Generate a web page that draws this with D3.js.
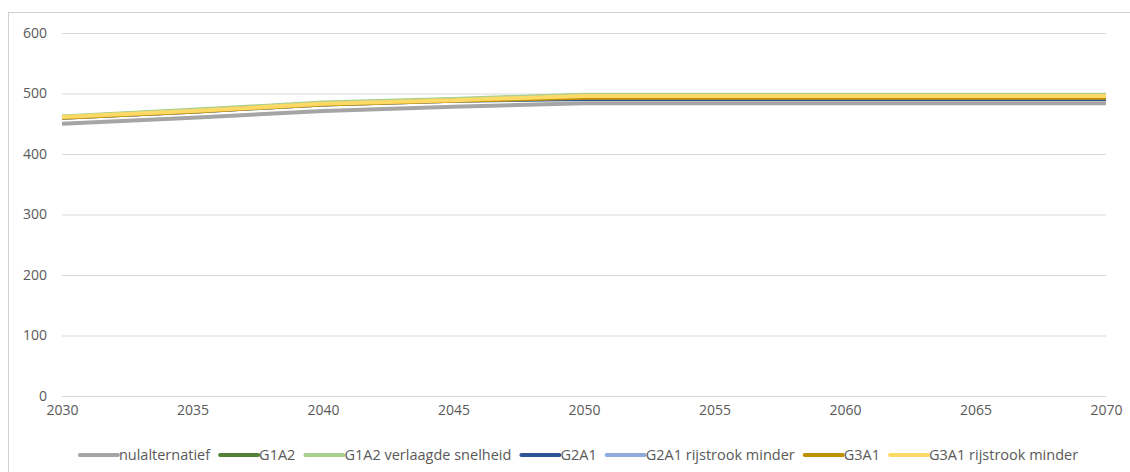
<!DOCTYPE html>
<html>
<head>
<meta charset="utf-8">
<script src="https://cdn.jsdelivr.net/npm/d3@7"></script>
<style>
  html, body { margin: 0; padding: 0; background: #fff; }
  svg { display: block; }
  text { font-family: "Open Sans", "Noto Sans", sans-serif; fill: #595959; }
</style>
</head>
<body>
<svg id="chart" width="1130" height="472"></svg>
<script>
// Years on the horizontal axis
const years = [2030, 2035, 2040, 2045, 2050, 2055, 2060, 2065, 2070];

// Scenario names and their values per year
const seriesNames = [
  "nulalternatief",
  "G1A2",
  "G1A2 verlaagde snelheid",
  "G2A1",
  "G2A1 rijstrook minder",
  "G3A1",
  "G3A1 rijstrook minder"
];
const nulalternatief      = [450, 460, 471, 478, 484, 484, 484, 484, 484];
const g1a2                = [461, 472, 484, 490, 497, 497, 497, 497, 497];
const g1a2Verlaagd        = [462, 473, 485, 491, 498, 498, 498, 498, 498];
const g2a1                = [460, 470, 482, 488, 491, 491, 491, 491, 491];
const g2a1Rijstrook       = [460, 470, 482, 488, 494, 494, 494, 494, 494];
const g3a1                = [460, 470, 482, 488, 493, 493, 493, 493, 493];
const g3a1Rijstrook       = [461, 471, 483, 489, 496, 496, 496, 496, 496];

const seriesValues = [nulalternatief, g1a2, g1a2Verlaagd, g2a1, g2a1Rijstrook, g3a1, g3a1Rijstrook];
const seriesColors = ["#a5a5a5", "#548235", "#a9d18e", "#2f5597", "#8faadc", "#bf9000", "#ffd966"];

const yTicks = [0, 100, 200, 300, 400, 500, 600];
const xTicks = [2030, 2035, 2040, 2045, 2050, 2055, 2060, 2065, 2070];

const svg = d3.select("#chart");

// Chart frame
svg.append("rect")
  .attr("x", 8.5).attr("y", 12.5)
  .attr("width", 1140).attr("height", 470)
  .attr("fill", "none").attr("stroke", "#d0d0d0").attr("stroke-width", 1);

const plot = { left: 62, right: 1106, top: 33, bottom: 396 };

const x = d3.scaleLinear().domain([2030, 2070]).range([plot.left, plot.right]);
const y = d3.scaleLinear().domain([0, 600]).range([plot.bottom, plot.top]);

// Horizontal gridlines + y labels
const yAxis = d3.axisLeft(y).tickValues(yTicks).tickSize(-(plot.right - plot.left)).tickPadding(15);
const gy = svg.append("g").attr("transform", `translate(${plot.left},0)`).call(yAxis);
gy.select(".domain").remove();
gy.selectAll(".tick line").attr("stroke", "#d9d9d9").attr("stroke-width", 1);
gy.selectAll(".tick text").attr("font-size", "14px").attr("fill", "#595959")
  .style("font-family", '"Open Sans", sans-serif');

// X labels
const xAxis = d3.axisBottom(x).tickValues(xTicks).tickFormat(d3.format("d")).tickSize(0).tickPadding(9);
const gx = svg.append("g").attr("transform", `translate(0,${plot.bottom})`).call(xAxis);
gx.select(".domain").remove();
gx.selectAll(".tick text").attr("font-size", "14px").attr("fill", "#595959")
  .style("font-family", '"Open Sans", sans-serif');

// Series lines
const line = d3.line()
  .x((d, i) => x(years[i]))
  .y(d => y(d));

svg.append("g").selectAll("path")
  .data(seriesValues)
  .join("path")
  .attr("d", line)
  .attr("fill", "none")
  .attr("stroke", (d, i) => seriesColors[i])
  .attr("stroke-width", 4)
  .attr("stroke-linejoin", "round");

// Legend, centred under the plot
const legend = svg.append("g");
const swatch = 38, gapAfterSwatch = 1, gapAfterText = 10;
let cursor = 0;
seriesNames.forEach((name, i) => {
  const g = legend.append("g").attr("transform", `translate(${cursor},0)`);
  g.append("line")
    .attr("x1", 0).attr("x2", swatch).attr("y1", 0).attr("y2", 0)
    .attr("stroke", seriesColors[i]).attr("stroke-width", 4).attr("stroke-linecap", "round");
  const t = g.append("text")
    .attr("x", swatch + gapAfterSwatch).attr("y", 0).attr("dy", "0.35em")
    .attr("font-size", "14.5px").text(name);
  cursor += swatch + gapAfterSwatch + t.node().getComputedTextLength() + gapAfterText;
});
const legendWidth = cursor - gapAfterText;
legend.attr("transform", `translate(${579 - legendWidth / 2},455)`);
</script>
</body>
</html>
